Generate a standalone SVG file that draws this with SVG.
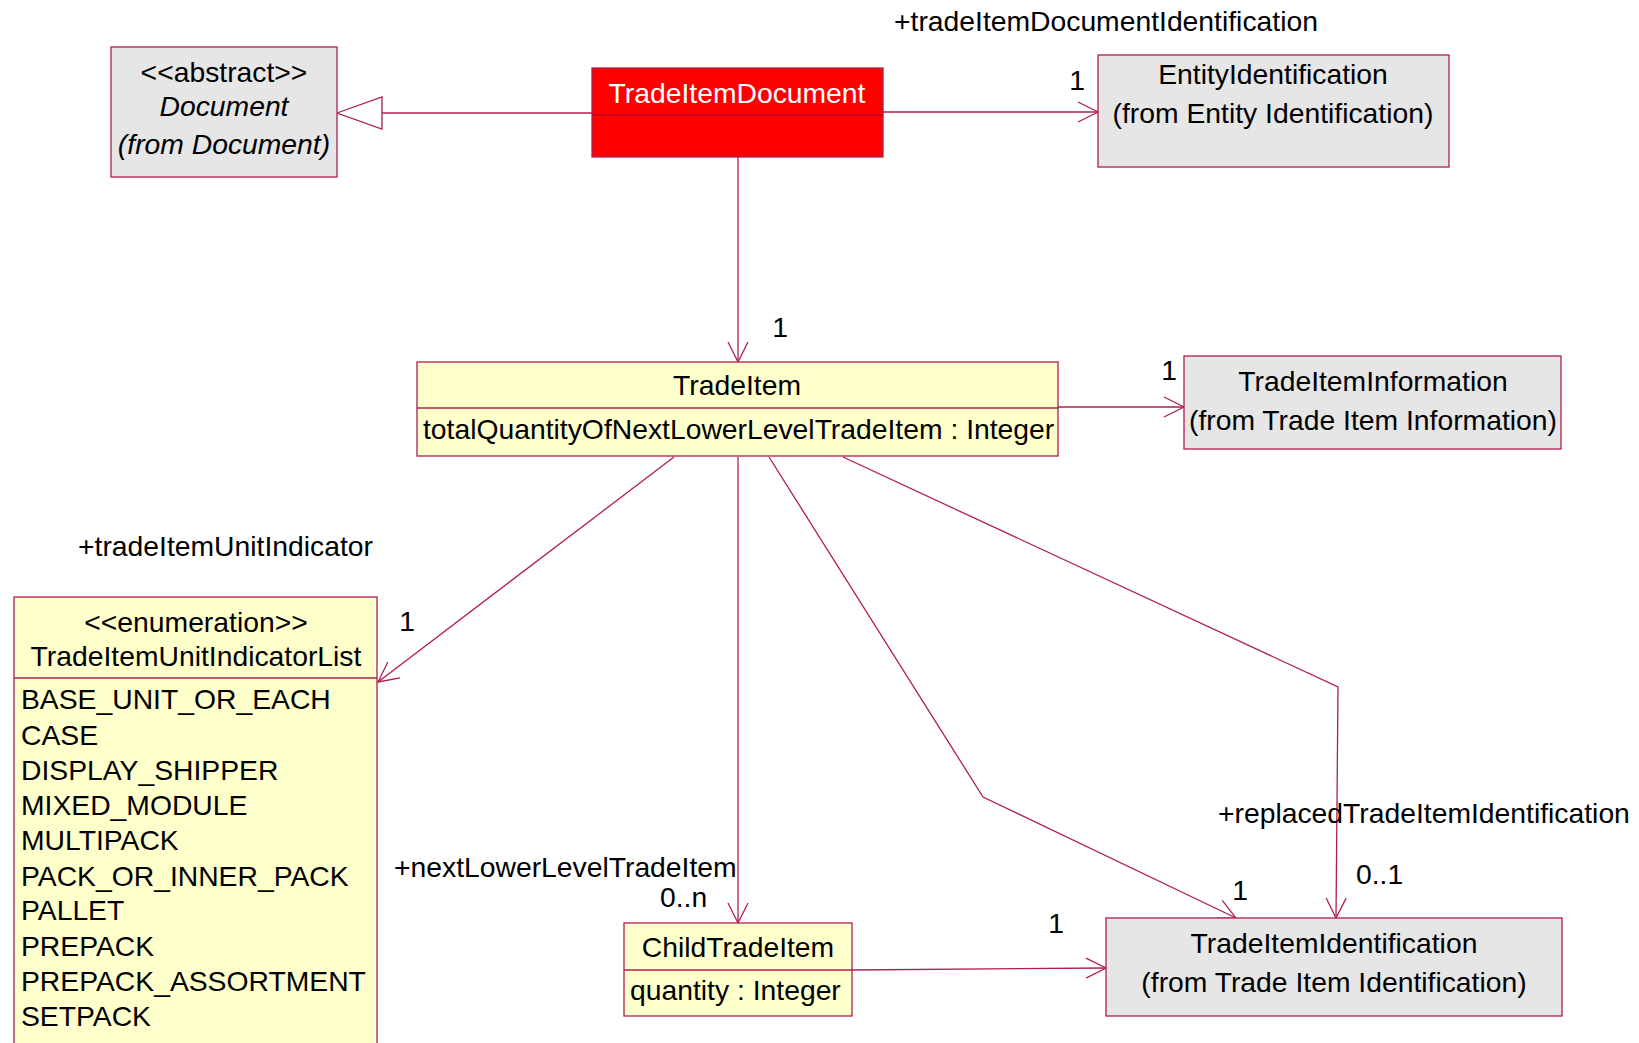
<svg xmlns="http://www.w3.org/2000/svg" width="1639" height="1043" viewBox="0 0 1639 1043">
<defs>
<style>
text{font-family:"Liberation Sans",Arial,sans-serif;font-size:28.3px;fill:#000}
.c{text-anchor:middle}
.i{font-style:italic}
.w{fill:#fff}
.box{stroke:#B01E50;stroke-width:1.3}
.y{fill:#FFFFCC}
.g{fill:#E6E6E6}
.r{fill:#FF0000}
.ln{fill:none;stroke:#B01E50;stroke-width:1.3}
</style>
<marker id="open" viewBox="0 0 22 22" refX="21" refY="11" markerWidth="22" markerHeight="22" markerUnits="userSpaceOnUse" orient="auto">
<path d="M1,1 L21,11 L1,21" fill="none" stroke="#B01E50" stroke-width="1.3"/>
</marker>
</defs>
<rect width="1639" height="1043" fill="#fff"/>
<g id="connectors">
<path class="ln" d="M592,113 H382"/>
<path d="M337,113 L382,97 L382,129 Z" fill="#fff" stroke="#B01E50" stroke-width="1.3"/>
<path class="ln" d="M883,112 H1098" marker-end="url(#open)"/>
<path class="ln" d="M738,157 V362" marker-end="url(#open)"/>
<path class="ln" d="M1058,407 H1184" marker-end="url(#open)"/>
<path class="ln" d="M674,457 L378,682" marker-end="url(#open)"/>
<path class="ln" d="M738,457 V923" marker-end="url(#open)"/>
<path class="ln" d="M852,970 L1106,968" marker-end="url(#open)"/>
<path class="ln" d="M769,457 L983,797 L1236,918" marker-end="url(#open)"/>
<path class="ln" d="M843,457 L1338,687 L1336,918" marker-end="url(#open)"/>
<text x="894" y="31">+tradeItemDocumentIdentification</text>
<text x="1077" y="90" class="c">1</text>
<text x="780" y="337" class="c">1</text>
<text x="1169" y="380" class="c">1</text>
<text x="78" y="556">+tradeItemUnitIndicator</text>
<text x="407" y="631" class="c">1</text>
<text x="394" y="877">+nextLowerLevelTradeItem</text>
<text x="660" y="907">0..n</text>
<text x="1056" y="933" class="c">1</text>
<text x="1218" y="823">+replacedTradeItemIdentification</text>
<text x="1356" y="884">0..1</text>
<text x="1240" y="900" class="c">1</text>
</g>
<g id="Document">
<rect class="box g" x="111" y="47" width="226" height="130"/>
<text x="224" y="82" class="c">&lt;&lt;abstract&gt;&gt;</text>
<text x="224" y="116" class="c i">Document</text>
<text x="224" y="154" class="c i">(from Document)</text>
</g>
<g id="TradeItemDocument">
<rect class="box r" x="592" y="68" width="291" height="89"/>
<line x1="592" y1="115" x2="883" y2="115" stroke="#C00020" stroke-width="1.3"/>
<text x="737" y="103" class="c w">TradeItemDocument</text>
</g>
<g id="EntityIdentification">
<rect class="box g" x="1098" y="55" width="351" height="112"/>
<text x="1273" y="84" class="c">EntityIdentification</text>
<text x="1273" y="123" class="c">(from Entity Identification)</text>
</g>
<g id="TradeItem">
<rect class="box y" x="417" y="362" width="641" height="94"/>
<line class="ln" x1="417" y1="408" x2="1058" y2="408"/>
<text x="737" y="395" class="c">TradeItem</text>
<text x="423" y="439">totalQuantityOfNextLowerLevelTradeItem : Integer</text>
</g>
<g id="TradeItemInformation">
<rect class="box g" x="1184" y="356" width="377" height="93"/>
<text x="1373" y="391" class="c">TradeItemInformation</text>
<text x="1373" y="430" class="c">(from Trade Item Information)</text>
</g>
<g id="TradeItemUnitIndicatorList">
<rect class="box y" x="14" y="597" width="363" height="460"/>
<line class="ln" x1="14" y1="678" x2="377" y2="678"/>
<text x="196" y="632" class="c">&lt;&lt;enumeration&gt;&gt;</text>
<text x="196" y="666" class="c">TradeItemUnitIndicatorList</text>
<text x="21" y="709">BASE_UNIT_OR_EACH</text>
<text x="21" y="745">CASE</text>
<text x="21" y="780">DISPLAY_SHIPPER</text>
<text x="21" y="815">MIXED_MODULE</text>
<text x="21" y="850">MULTIPACK</text>
<text x="21" y="886">PACK_OR_INNER_PACK</text>
<text x="21" y="920">PALLET</text>
<text x="21" y="956">PREPACK</text>
<text x="21" y="991">PREPACK_ASSORTMENT</text>
<text x="21" y="1026">SETPACK</text>
</g>
<g id="ChildTradeItem">
<rect class="box y" x="624" y="923" width="228" height="93"/>
<line class="ln" x1="624" y1="970" x2="852" y2="970"/>
<text x="738" y="957" class="c">ChildTradeItem</text>
<text x="630" y="1000">quantity : Integer</text>
</g>
<g id="TradeItemIdentification">
<rect class="box g" x="1106" y="918" width="456" height="98"/>
<text x="1334" y="953" class="c">TradeItemIdentification</text>
<text x="1334" y="992" class="c">(from Trade Item Identification)</text>
</g>
</svg>
